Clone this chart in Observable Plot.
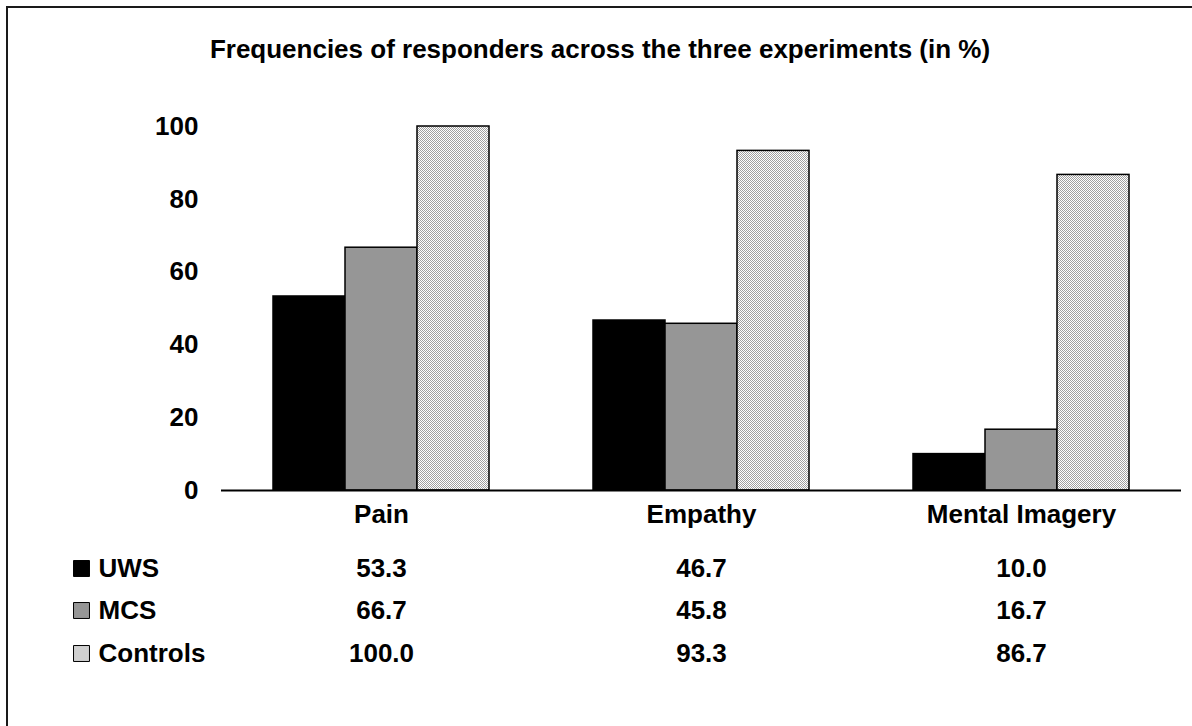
<!DOCTYPE html>
<html>
<head>
<meta charset="utf-8">
<script src="https://cdn.jsdelivr.net/npm/d3@7"></script>
<script src="https://cdn.jsdelivr.net/npm/@observablehq/plot@0.6"></script>
<style>
  html, body { margin: 0; padding: 0; background: #fff; }
  #wrap { position: relative; width: 1192px; height: 726px; overflow: hidden; background: #fff; }
  #frame { position: absolute; left: 6px; top: 6px; width: 1260px; height: 800px; border: 2px solid #1a1a1a; box-sizing: border-box; }
  #title { position: absolute; left: 0; width: 1200px; top: 34px; text-align: center;
           font: bold 26px "Liberation Sans", Arial, sans-serif; color: #000; }
  #chart { position: absolute; left: 0; top: 0; }
</style>
</head>
<body>
<div id="wrap">
  <div id="frame"></div>
  <div id="title">Frequencies of responders across the three experiments (in %)</div>
  <div id="chart"></div>
</div>
<script>
// Experiments (x categories) and patient groups (series)
const categories = ["Pain", "Empathy", "Mental Imagery"];
const groups = ["UWS", "MCS", "Controls"];

// Percentage of responders per experiment
const uws = [53.3, 46.7, 10.0];
const mcs = [66.7, 45.8, 16.7];
const controls = [100.0, 93.3, 86.7];

const yTicks = [0, 20, 40, 60, 80, 100];

const seriesValues = { UWS: uws, MCS: mcs, Controls: controls };
const rows = groups.flatMap(g =>
  categories.map((c, i) => ({ category: c, group: g, value: seriesValues[g][i] }))
);

const font = { fontSize: 26, fontWeight: "bold" };
const rowOffsets = { UWS: 78, MCS: 120, Controls: 163 };

const marks = [
  Plot.barY(rows, {
    fx: "category", x: "group", y: "value", fill: "group",
    stroke: "#000", strokeWidth: 1.5
  }),
  Plot.ruleY([0], { stroke: "#000", strokeWidth: 2 }),
  Plot.axisY({ ticks: yTicks, tickSize: 0, tickPadding: 23, label: null, ...font, tickFormat: d => d }),
  // category labels under the baseline
  Plot.text(categories, {
    fx: d => d, text: d => d, frameAnchor: "bottom", lineAnchor: "middle", dy: 24, ...font
  })
];

// data table: one row of values per group, plus a swatch and group name at the left
for (const g of groups) {
  const dy = rowOffsets[g];
  marks.push(
    Plot.text(rows.filter(r => r.group === g), {
      fx: "category", text: d => d.value.toFixed(1),
      frameAnchor: "bottom", lineAnchor: "middle", dy, ...font
    }),
    Plot.text([g], {
      fx: () => categories[0], text: d => d,
      frameAnchor: "bottom-left", textAnchor: "start", lineAnchor: "middle",
      dx: -123, dy, ...font
    }),
    Plot.dot([g], {
      fx: () => categories[0], fill: d => d, symbol: "square", r: 9,
      stroke: "#000", strokeWidth: 1,
      frameAnchor: "bottom-left", dx: -140, dy
    })
  );
}

const chart = Plot.plot({
  width: 1192,
  height: 726,
  marginTop: 126,
  marginBottom: 236,
  marginLeft: 221,
  marginRight: 11,
  style: { fontFamily: "'Liberation Sans', Arial, sans-serif", color: "#000", background: "transparent", overflow: "visible" },
  fx: { domain: categories, padding: 0, axis: null },
  x: { domain: groups, paddingInner: 0, paddingOuter: 0.7222, axis: null },
  y: { domain: [0, 100], axis: null },
  color: { domain: groups, range: ["#000000", "#969696", "url(#checker)"] },
  marks
});

// fine checkerboard fill used for the Controls series
const defs = d3.select(chart).insert("defs", ":first-child");
const pat = defs.append("pattern")
  .attr("id", "checker").attr("patternUnits", "userSpaceOnUse")
  .attr("width", 2).attr("height", 2);
pat.append("rect").attr("width", 2).attr("height", 2).attr("fill", "#ffffff");
pat.append("rect").attr("x", 0).attr("y", 0).attr("width", 1).attr("height", 1).attr("fill", "#a0a0a0");
pat.append("rect").attr("x", 1).attr("y", 1).attr("width", 1).attr("height", 1).attr("fill", "#a0a0a0");

document.getElementById("chart").appendChild(chart);
</script>
</body>
</html>
